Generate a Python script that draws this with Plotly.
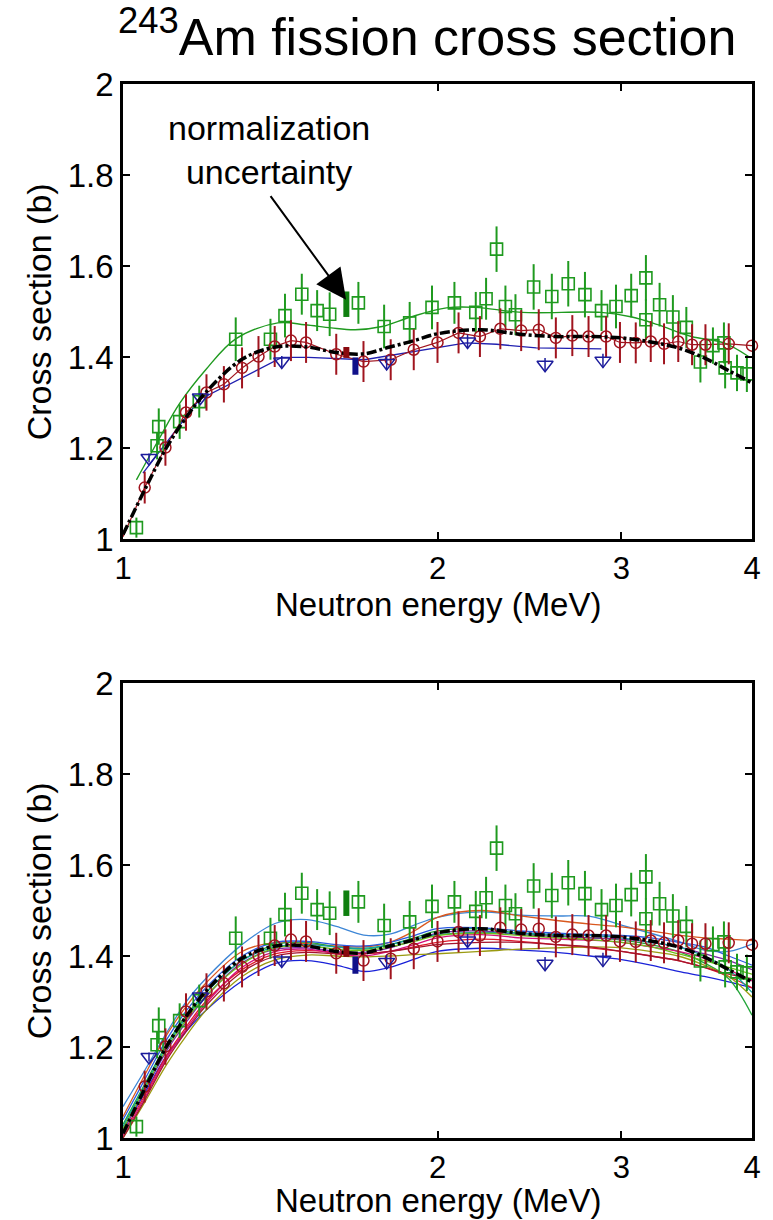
import plotly.graph_objects as go
import math

# ---------------- data ----------------
# Evaluation (black dashed)
eval_E = [1.0, 1.05, 1.1, 1.15, 1.2, 1.3, 1.4, 1.5, 1.6, 1.7, 1.8, 1.9, 2.0, 2.2, 2.4,
          2.6, 2.8, 3.0, 3.2, 3.4, 3.6, 3.8, 4.0]
eval_xs = [1.01, 1.11, 1.2, 1.268, 1.322, 1.395, 1.422, 1.422, 1.41, 1.407, 1.422, 1.436,
           1.451, 1.46, 1.45, 1.445, 1.445, 1.442, 1.433, 1.42, 1.398, 1.37, 1.343]

# Green squares (data set 1)
green_E = [1.030, 1.078, 1.082, 1.133, 1.183, 1.282, 1.384, 1.429, 1.483, 1.534, 1.577,
           1.680, 1.778, 1.881, 1.976, 2.076, 2.176, 2.226, 2.278, 2.323, 2.375, 2.472,
           2.573, 2.668, 2.768, 2.871, 2.964, 3.065, 3.166, 3.166, 3.263, 3.360, 3.461,
           3.570, 3.670, 3.760, 3.770, 3.870, 3.955]
green_xs = [1.025, 1.205, 1.247, 1.258, 1.302, 1.439, 1.439, 1.491, 1.538, 1.502, 1.494,
            1.519, 1.467, 1.475, 1.509, 1.519, 1.498, 1.528, 1.637, 1.511, 1.493, 1.554,
            1.533, 1.561, 1.537, 1.502, 1.511, 1.535, 1.574, 1.482, 1.515, 1.488, 1.465,
            1.389, 1.425, 1.431, 1.376, 1.365, 1.363]
green_err = [0.022, 0.03, 0.04, 0.038, 0.035, 0.048, 0.045, 0.048, 0.045, 0.045, 0.048,
             0.046, 0.048, 0.046, 0.048, 0.046, 0.045, 0.046, 0.05, 0.046, 0.045, 0.05,
             0.05, 0.05, 0.05, 0.045, 0.048, 0.048, 0.05, 0.045, 0.048, 0.048, 0.045,
             0.045, 0.04, 0.045, 0.045, 0.04, 0.04]
# Green fitted curve (top panel)
gfit_E = [1.030, 1.084, 1.133, 1.2, 1.282, 1.407, 1.493, 1.582, 1.668, 1.77, 1.885, 2.04,
          2.176, 2.41, 2.87, 3.07, 3.25, 3.5, 3.76, 3.97]
gfit_xs = [1.130, 1.222, 1.298, 1.372, 1.44, 1.475, 1.471, 1.464, 1.46, 1.467, 1.488,
           1.508, 1.509, 1.498, 1.498, 1.488, 1.471, 1.445, 1.431, 1.401]

# Red circles (data set 2)
red_E = [1.049, 1.098, 1.149, 1.202, 1.249, 1.300, 1.348, 1.397, 1.448, 1.497, 1.600,
         1.699, 1.804, 1.898, 2.000, 2.095, 2.196, 2.297, 2.405, 2.500, 2.596, 2.692,
         2.790, 2.900, 2.990, 3.096, 3.200, 3.295, 3.400, 3.505, 3.610, 3.800, 4.000]
red_xs = [1.113, 1.201, 1.278, 1.322, 1.340, 1.376, 1.401, 1.423, 1.436, 1.432, 1.406,
          1.390, 1.394, 1.416, 1.432, 1.453, 1.445, 1.462, 1.458, 1.460, 1.442, 1.447,
          1.445, 1.445, 1.432, 1.431, 1.434, 1.429, 1.434, 1.427, 1.427, 1.429, 1.425]
red_err = [0.035, 0.04, 0.04, 0.04, 0.04, 0.045, 0.045, 0.045, 0.045, 0.045, 0.045,
           0.045, 0.045, 0.045, 0.045, 0.045, 0.045, 0.045, 0.045, 0.045, 0.045, 0.045,
           0.045, 0.045, 0.045, 0.045, 0.045, 0.045, 0.045, 0.045, 0.045, 0.045, 0.0]

# Blue triangles (data set 3)
blue_E = [1.059, 1.186, 1.419, 1.788, 2.137, 2.535, 2.880]
blue_xs = [1.178, 1.311, 1.390, 1.387, 1.434, 1.383, 1.392]
blue_err = [0.01, 0.01, 0.012, 0.015, 0.015, 0.015, 0.015]
bline_E = [1.045, 1.183, 1.419, 1.504, 1.702, 2.0, 2.13, 2.278, 2.486, 2.87]
bline_xs = [1.145, 1.306, 1.399, 1.399, 1.394, 1.42, 1.431, 1.428, 1.42, 1.418]

# Normalization uncertainty bars: (energy, low, high)
norm_green = (1.636, 1.488, 1.544)
norm_red = (1.636, 1.398, 1.422)
norm_blue = (1.669, 1.361, 1.399)

# Sample curves (bottom panel), values at eval_E nodes
sample_colors = ["#3d86d6", "#d9581e", "#1a22d8", "#23a63a", "#e0182a", "#d4107a",
                 "#7a2aa8", "#9a9a10", "#12a0a0", "#a5142e", "#2a5ae0", "#6bbf1a"]
samples = [
    [1.069, 1.15, 1.23, 1.30, 1.35, 1.425, 1.472, 1.48, 1.465, 1.446, 1.448, 1.468, 1.485,
     1.497, 1.49, 1.488, 1.487, 1.468, 1.45, 1.432, 1.413, 1.41, 1.426],
    [1.047, 1.14, 1.225, 1.29, 1.34, 1.41, 1.43, 1.427, 1.422, 1.42, 1.43, 1.455, 1.485,
     1.5, 1.488, 1.478, 1.47, 1.464, 1.455, 1.446, 1.44, 1.437, 1.434],
    [1.018, 1.10, 1.18, 1.235, 1.28, 1.345, 1.384, 1.39, 1.38, 1.366, 1.375, 1.393, 1.41,
     1.417, 1.413, 1.408, 1.4, 1.392, 1.38, 1.366, 1.355, 1.343, 1.33],
    [1.03, 1.12, 1.205, 1.27, 1.32, 1.39, 1.425, 1.43, 1.42, 1.415, 1.425, 1.44, 1.455,
     1.46, 1.45, 1.445, 1.44, 1.435, 1.425, 1.41, 1.385, 1.35, 1.27],
    [1.01, 1.095, 1.18, 1.245, 1.3, 1.37, 1.405, 1.412, 1.408, 1.405, 1.41, 1.42, 1.43,
     1.437, 1.432, 1.425, 1.418, 1.41, 1.4, 1.39, 1.375, 1.355, 1.33],
    [1.005, 1.09, 1.175, 1.24, 1.295, 1.375, 1.41, 1.415, 1.405, 1.4, 1.41, 1.425, 1.44,
     1.447, 1.44, 1.437, 1.435, 1.43, 1.42, 1.41, 1.395, 1.37, 1.345],
    [1.015, 1.105, 1.19, 1.255, 1.31, 1.385, 1.415, 1.418, 1.41, 1.408, 1.418, 1.435, 1.45,
     1.455, 1.447, 1.443, 1.44, 1.437, 1.43, 1.42, 1.405, 1.39, 1.37],
    [1.0, 1.08, 1.16, 1.225, 1.28, 1.355, 1.392, 1.402, 1.4, 1.398, 1.4, 1.403, 1.405,
     1.41, 1.415, 1.418, 1.42, 1.418, 1.41, 1.4, 1.38, 1.355, 1.31],
    [1.025, 1.115, 1.2, 1.265, 1.318, 1.39, 1.42, 1.425, 1.42, 1.417, 1.425, 1.437, 1.447,
     1.452, 1.45, 1.447, 1.445, 1.44, 1.43, 1.42, 1.4, 1.37, 1.32],
    [1.0, 1.085, 1.17, 1.235, 1.29, 1.365, 1.4, 1.408, 1.405, 1.405, 1.41, 1.418, 1.425,
     1.43, 1.43, 1.425, 1.42, 1.41, 1.4, 1.39, 1.375, 1.36, 1.35],
    [1.04, 1.13, 1.215, 1.28, 1.33, 1.4, 1.43, 1.432, 1.425, 1.422, 1.43, 1.445, 1.46,
     1.462, 1.455, 1.45, 1.447, 1.445, 1.44, 1.43, 1.42, 1.4, 1.38],
    [1.02, 1.11, 1.195, 1.26, 1.312, 1.382, 1.418, 1.422, 1.415, 1.412, 1.42, 1.432, 1.445,
     1.45, 1.445, 1.44, 1.436, 1.43, 1.42, 1.405, 1.39, 1.375, 1.36],
]

x_ticks = [1, 2, 3, 4]
y_ticks = [1, 1.2, 1.4, 1.6, 1.8, 2]
y_ticktext = ["1", "1.2", "1.4", "1.6", "1.8", "2"]

GREEN = "#1f9a1f"
RED = "#a0141e"
BLUE = "#1c1c9c"
FONT = "Liberation Sans, Arial, sans-serif"

fig = go.Figure()


def add_data(xa, ya, top):
    if not top:
        for vals, col in zip(samples, sample_colors):
            fig.add_trace(go.Scatter(x=eval_E, y=vals, mode="lines", xaxis=xa, yaxis=ya,
                                     line=dict(color=col, width=1.3, shape="spline"),
                                     showlegend=False, hoverinfo="skip"))
    if top:
        fig.add_trace(go.Scatter(x=gfit_E, y=gfit_xs, mode="lines", xaxis=xa, yaxis=ya,
                                 line=dict(color=GREEN, width=1.4, shape="spline"),
                                 showlegend=False))
        fig.add_trace(go.Scatter(x=bline_E, y=bline_xs, mode="lines", xaxis=xa, yaxis=ya,
                                 line=dict(color="#2020b0", width=1.3),
                                 showlegend=False))
        fig.add_trace(go.Scatter(x=[1.0] + red_E, y=[1.005] + red_xs, mode="lines",
                                 xaxis=xa, yaxis=ya,
                                 line=dict(color=RED, width=1.2),
                                 showlegend=False))
    # green squares
    fig.add_trace(go.Scatter(x=green_E, y=green_xs, mode="markers", xaxis=xa, yaxis=ya,
                             marker=dict(symbol="square-open", size=12, color=GREEN,
                                         line=dict(width=1.6, color=GREEN)),
                             error_y=dict(type="data", array=green_err, color=GREEN,
                                          thickness=2, width=0),
                             cliponaxis=False, showlegend=False))
    # red circles
    fig.add_trace(go.Scatter(x=red_E, y=red_xs, mode="markers", xaxis=xa, yaxis=ya,
                             marker=dict(symbol="circle-open", size=11, color=RED,
                                         line=dict(width=1.5, color=RED)),
                             error_y=dict(type="data", array=red_err, color=RED,
                                          thickness=2, width=0),
                             cliponaxis=False, showlegend=False))
    # blue triangles
    fig.add_trace(go.Scatter(x=blue_E, y=blue_xs, mode="markers", xaxis=xa, yaxis=ya,
                             marker=dict(symbol="triangle-down-open", size=14, color=BLUE,
                                         line=dict(width=1.5, color=BLUE)),
                             error_y=dict(type="data", array=blue_err, color=BLUE,
                                          thickness=1.5, width=0),
                             cliponaxis=False, showlegend=False))
    # evaluation
    fig.add_trace(go.Scatter(x=eval_E, y=eval_xs, mode="lines", xaxis=xa, yaxis=ya,
                             line=dict(color="black", width=3.5, shape="spline",
                                       dash="10px,3px,3px,3px"),
                             showlegend=False))
    # normalization bars
    for (e, lo, hi), col in [(norm_green, "#0f7f0f"), (norm_red, "#8a0a10"),
                             (norm_blue, "#10108a")]:
        fig.add_trace(go.Scatter(x=[e, e], y=[lo, hi], mode="lines", xaxis=xa, yaxis=ya,
                                 line=dict(color=col, width=6), showlegend=False))


add_data("x", "y", True)
add_data("x2", "y2", False)

axis_common = dict(
    showline=True, linecolor="black", linewidth=2.5, mirror="ticks",
    ticks="inside", ticklen=7, tickwidth=2, tickcolor="black",
    showgrid=False, zeroline=False,
    tickfont=dict(family=FONT, size=33, color="black"),
)
xcommon = dict(axis_common, type="log", range=[0, math.log10(4)],
               tickvals=x_ticks, ticktext=[str(t) for t in x_ticks],
               tickfont=dict(family=FONT, size=31, color="black"))
ycommon = dict(axis_common, range=[1, 2], tickvals=y_ticks, ticktext=y_ticktext)

H_TOP = 455 / 1054
fig.update_layout(
    width=773, height=1220,
    margin=dict(l=123, r=15, t=84, b=82),
    paper_bgcolor="white", plot_bgcolor="white",
    font=dict(family=FONT, color="black"),
    xaxis=dict(xcommon, domain=[0, 1], anchor="y"),
    yaxis=dict(ycommon, domain=[1 - H_TOP, 1], anchor="x"),
    xaxis2=dict(xcommon, domain=[0, 1], anchor="y2"),
    yaxis2=dict(ycommon, domain=[0, H_TOP], anchor="x2"),
    showlegend=False,
)


def py(px):
    return (1138 - px) / 1054


annotations = [
    dict(text="<sup>243</sup>Am fission cross section", xref="paper", yref="paper",
         x=0.4835, y=py(33), xanchor="center", yanchor="middle", showarrow=False,
         font=dict(size=52, family=FONT)),
    dict(text="normalization<br>uncertainty", xref="paper", yref="paper",
         x=(270 - 123) / 635, y=py(150), xanchor="center", yanchor="middle",
         showarrow=False, font=dict(size=34, family=FONT)),
    dict(text="", x=math.log10(1.635), y=1.526, xref="x", yref="y",
         showarrow=True, ax=-76.6, ay=-105, arrowhead=2, arrowsize=3,
         arrowwidth=2, arrowcolor="black"),
]
for yc, yx in [(py((84 + 539) / 2), py(604)), (py((683 + 1138) / 2), py(1200))]:
    annotations.append(dict(text="Cross section (b)", xref="paper", yref="paper",
                            x=(38 - 123) / 635, y=yc, xanchor="center", yanchor="middle",
                            textangle=-90, showarrow=False, font=dict(size=34, family=FONT)))
    annotations.append(dict(text="Neutron energy (MeV)", xref="paper", yref="paper",
                            x=0.5, y=yx, xanchor="center", yanchor="middle",
                            showarrow=False, font=dict(size=33, family=FONT)))
fig.update_layout(annotations=annotations)

fig.write_html("out.html")
